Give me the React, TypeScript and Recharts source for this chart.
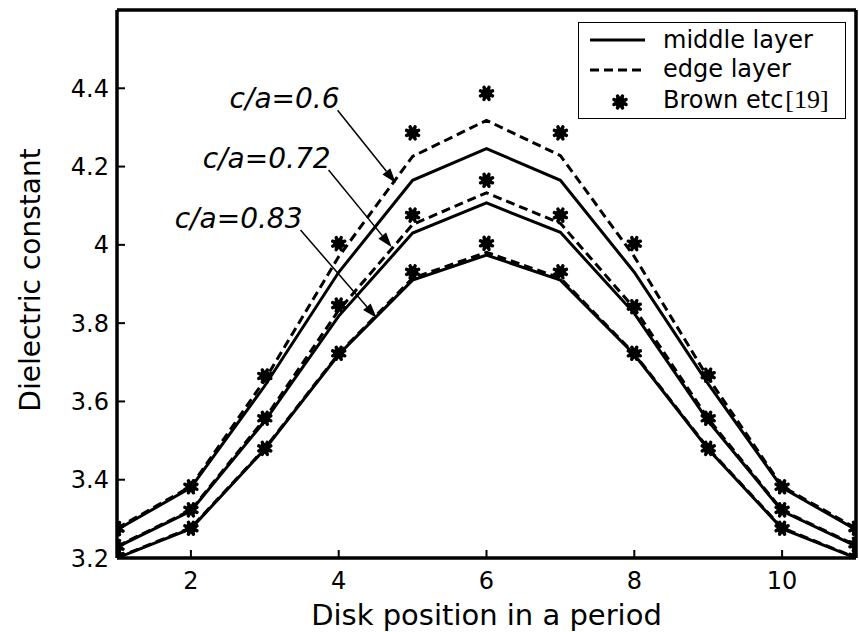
import React from 'react';
import { ComposedChart, Line, XAxis, YAxis, ReferenceLine, Legend, Label } from 'recharts';

// ---- data ----
const positions = [1, 2, 3, 4, 5, 6, 7, 8, 9, 10, 11];

const middle06 = [3.272, 3.380, 3.640, 3.930, 4.165, 4.246, 4.165, 3.930, 3.645, 3.380, 3.272];
const edge06 = [3.276, 3.383, 3.655, 3.970, 4.226, 4.318, 4.228, 3.970, 3.660, 3.383, 3.276];
const brown06 = [3.275, 3.382, 3.665, 4.003, 4.286, 4.387, 4.286, 4.003, 3.667, 3.382, 3.276];

const middle072 = [3.228, 3.320, 3.550, 3.818, 4.030, 4.107, 4.032, 3.825, 3.550, 3.320, 3.230];
const edge072 = [3.230, 3.322, 3.556, 3.833, 4.052, 4.133, 4.055, 3.838, 3.556, 3.322, 3.232];
const brown072 = [3.229, 3.323, 3.557, 3.846, 4.076, 4.165, 4.076, 3.842, 3.557, 3.323, 3.235];

const middle083 = [3.200, 3.275, 3.478, 3.720, 3.910, 3.974, 3.910, 3.720, 3.478, 3.275, 3.200];
const edge083 = [3.201, 3.277, 3.480, 3.722, 3.915, 3.981, 3.915, 3.722, 3.480, 3.277, 3.201];
const brown083 = [3.205, 3.276, 3.480, 3.723, 3.931, 4.004, 3.931, 3.723, 3.480, 3.276, 3.203];

const xTicks = [2, 4, 6, 8, 10];
const xTickLabels = ['2', '4', '6', '8', '10'];
const yTicks = [3.2, 3.4, 3.6, 3.8, 4.0, 4.2, 4.4];
const yTickLabels = ['3.2', '3.4', '3.6', '3.8', '4', '4.2', '4.4'];

const xTitle = 'Disk position in a period';
const yTitle = 'Dielectric constant';

const legendLabels = ['middle layer', 'edge layer', 'Brown etc'];
const legendRef = '[19]';

const annotations = [
  { label: 'c/a=0.6', from: { x: 3.985, y: 4.344 }, to: { x: 4.772, y: 4.158 } },
  { label: 'c/a=0.72', from: { x: 3.863, y: 4.191 }, to: { x: 4.718, y: 3.994 } },
  { label: 'c/a=0.83', from: { x: 3.483, y: 4.038 }, to: { x: 4.514, y: 3.813 } },
];

const data = positions.map((p, i) => ({
  pos: p,
  m06: middle06[i], e06: edge06[i], b06: brown06[i],
  m072: middle072[i], e072: edge072[i], b072: brown072[i],
  m083: middle083[i], e083: edge083[i], b083: brown083[i],
}));

// ---- styling ----
const FONT = '"DejaVu Sans", sans-serif';
const DASH = '9 5';
const LW = 3;

const StarMark = ({ cx, cy }: { cx: number; cy: number }) => (
  <g>
    <circle cx={cx} cy={cy} r={5.5} fill="#000" />
    {[0, 45, 90, 135].map((a) => {
      const r = 6.5;
      const rad = ((a + 22.5) * Math.PI) / 180;
      const dx = r * Math.cos(rad);
      const dy = r * Math.sin(rad);
      return (
        <line key={a} x1={cx - dx} y1={cy - dy} x2={cx + dx} y2={cy + dy}
          stroke="#000" strokeWidth={3.5} strokeLinecap="round" />
      );
    })}
  </g>
);

const renderStar = (props: any) => {
  const { cx, cy, index } = props;
  if (cx == null || cy == null) return <g key={`s-${index}`} />;
  return <g key={`s-${index}`}><StarMark cx={cx} cy={cy} /></g>;
};

const makeArrow = (text: string) => (props: any) => {
  const { x1, y1, x2, y2 } = props;
  const ang = Math.atan2(y2 - y1, x2 - x1);
  const L = 15;
  const W = 5;
  const c = Math.cos(ang);
  const s = Math.sin(ang);
  const bx = x2 - L * c;
  const by = y2 - L * s;
  const pts = `${x2},${y2} ${bx - W * s},${by + W * c} ${bx + W * s},${by - W * c}`;
  return (
    <g>
      <line x1={x1} y1={y1} x2={bx} y2={by} stroke="#000" strokeWidth={1.5} />
      <polygon points={pts} fill="#000" />
      <text x={x1 + 2} y={y1 - 2} textAnchor="end" fontStyle="italic"
        fontFamily={FONT} fontSize={28} fill="#000">{text}</text>
    </g>
  );
};

const renderLegend = () => (
  <svg width={268} height={97} style={{ display: 'block' }}>
    <rect x={0.5} y={0.5} width={267} height={96} fill="#fff" stroke="#000" strokeWidth={1} />
    <line x1={12} y1={18} x2={67} y2={18} stroke="#000" strokeWidth={LW} />
    <line x1={12} y1={48} x2={67} y2={48} stroke="#000" strokeWidth={LW} strokeDasharray={DASH} />
    <StarMark cx={42} cy={80} />
    <text x={85} y={26} fontFamily={FONT} fontSize={24} fill="#000">{legendLabels[0]}</text>
    <text x={85} y={55} fontFamily={FONT} fontSize={24} fill="#000">{legendLabels[1]}</text>
    <text x={85} y={86} fontFamily={FONT} fontSize={24} fill="#000">
      {legendLabels[2]}
      <tspan fontFamily='"Liberation Serif", serif' fontSize={26} dx={2}>{legendRef}</tspan>
    </text>
  </svg>
);

const fmtY = (v: number) => {
  const i = yTicks.findIndex((t) => Math.abs(t - v) < 1e-9);
  return i >= 0 ? yTickLabels[i] : String(v);
};
const fmtX = (v: number) => {
  const i = xTicks.findIndex((t) => Math.abs(t - v) < 1e-9);
  return i >= 0 ? xTickLabels[i] : String(v);
};

const XTitle = (props: any) => {
  const vb = props.viewBox || {};
  return (
    <text x={vb.x + vb.width / 2} y={vb.y + 67} textAnchor="middle"
      fontFamily={FONT} fontSize={29} fill="#000">{xTitle}</text>
  );
};

const YTitle = (props: any) => {
  const vb = props.viewBox || {};
  const x = vb.x + 40;
  const y = vb.y + vb.height / 2 - 4;
  return (
    <text x={x} y={y} textAnchor="middle" transform={`rotate(-90, ${x}, ${y})`}
      fontFamily={FONT} fontSize={28} fill="#000">{yTitle}</text>
  );
};

const axisLine = { stroke: '#000', strokeWidth: 3.5 };
const tickLine = { stroke: '#000', strokeWidth: 2 };
const tickStyle = { fill: '#000', fontSize: 24, fontFamily: FONT };

export default function App() {
  return (
    <div style={{ position: 'absolute', left: 0, top: 0, background: '#fff' }}>
      <ComposedChart width={859} height={632} data={data}
        margin={{ top: 9, right: 2, bottom: 0, left: 0 }}
        style={{ fontFamily: FONT, background: '#fff' }}>
        <XAxis xAxisId="b" type="number" dataKey="pos" domain={[1, 11]} ticks={xTicks}
          tickFormatter={fmtX} height={74} axisLine={axisLine} tickLine={tickLine}
          tickSize={-8} tickMargin={22} tick={tickStyle} allowDataOverflow>
          <Label content={<XTitle />} />
        </XAxis>
        <XAxis xAxisId="t" orientation="top" type="number" dataKey="pos" domain={[1, 11]}
          ticks={xTicks} height={1} axisLine={axisLine} tickLine={tickLine}
          tickSize={-8} tick={false} allowDataOverflow />
        <YAxis yAxisId="l" type="number" domain={[3.2, 4.6]} ticks={yTicks}
          tickFormatter={fmtY} width={117} axisLine={axisLine} tickLine={tickLine}
          tickSize={-8} tickMargin={16} tick={tickStyle} allowDataOverflow>
          <Label content={<YTitle />} />
        </YAxis>
        <YAxis yAxisId="r" orientation="right" type="number" domain={[3.2, 4.6]} ticks={yTicks}
          width={1} axisLine={axisLine} tickLine={tickLine} tickSize={-8} tick={false}
          allowDataOverflow />

        <Legend layout="horizontal" align="center" verticalAlign="middle"
          content={renderLegend}
          wrapperStyle={{ position: 'absolute', left: 578, top: 22, width: 268, height: 97, margin: 0 }} />

        {/* invisible series binding the frame axes */}
        <Line xAxisId="t" yAxisId="r" dataKey="m06" stroke="none" dot={false}
          activeDot={false} isAnimationActive={false} legendType="none" />

        {[['m06', 'e06'], ['m072', 'e072'], ['m083', 'e083']].map(([m, e]) => (
          <React.Fragment key={m}>
            <Line xAxisId="b" yAxisId="l" dataKey={m} stroke="#000" strokeWidth={LW}
              dot={false} activeDot={false} isAnimationActive={false} type="linear" />
            <Line xAxisId="b" yAxisId="l" dataKey={e} stroke="#000" strokeWidth={LW}
              strokeDasharray={DASH} dot={false} activeDot={false} isAnimationActive={false} type="linear" />
          </React.Fragment>
        ))}
        {['b06', 'b072', 'b083'].map((b) => (
          <Line key={b} xAxisId="b" yAxisId="l" dataKey={b} stroke="none"
            dot={renderStar} activeDot={false} isAnimationActive={false} />
        ))}

        {annotations.map((a) => (
          <ReferenceLine key={a.label} xAxisId="b" yAxisId="l"
            segment={[a.from, a.to]} ifOverflow="visible" shape={makeArrow(a.label)} />
        ))}
      </ComposedChart>
    </div>
  );
}
